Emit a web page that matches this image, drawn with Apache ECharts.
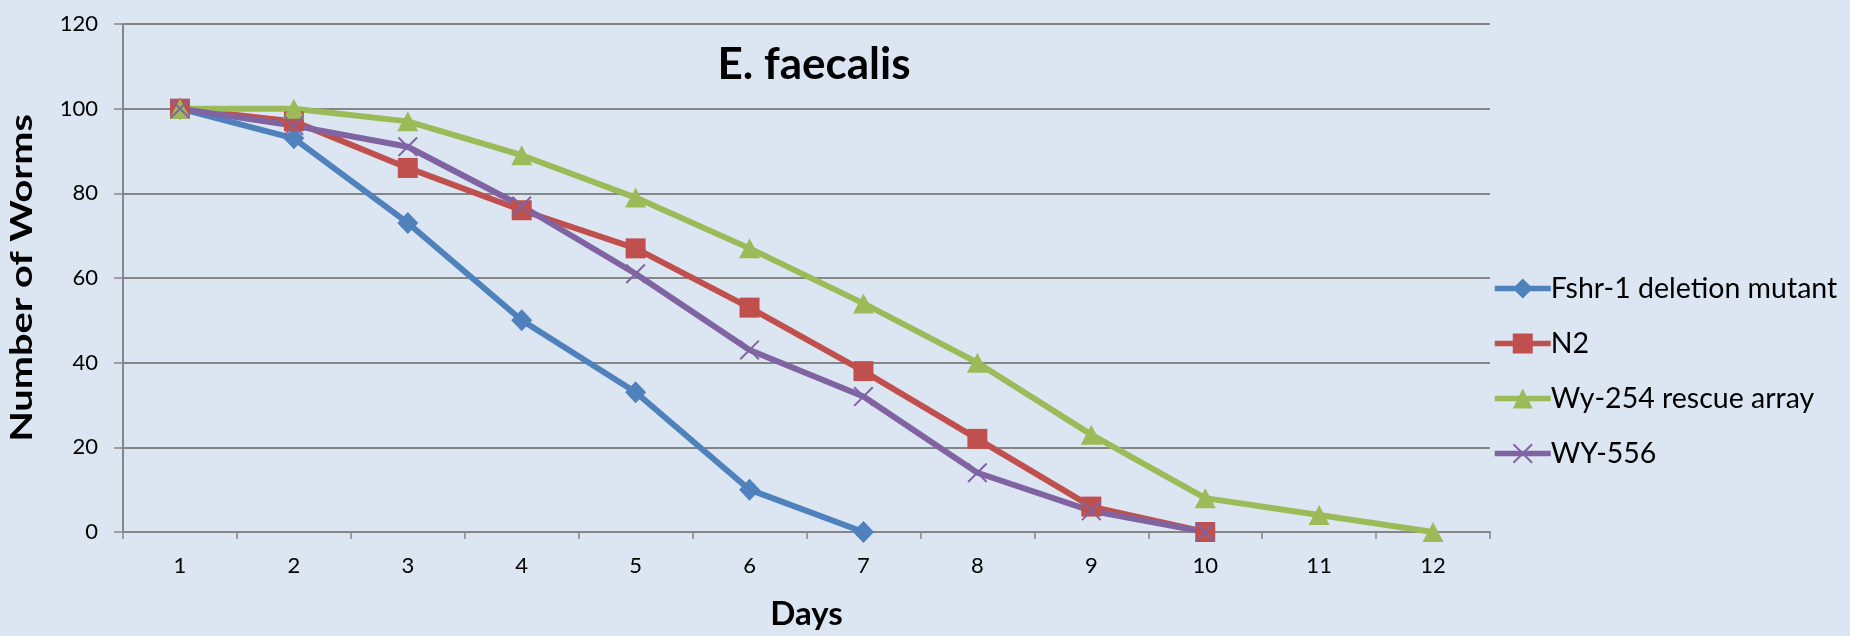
<!DOCTYPE html>
<html>
<head>
<meta charset="utf-8">
<script src="https://cdn.jsdelivr.net/npm/echarts@6/dist/echarts.min.js"></script>
<style>
  html, body { margin: 0; padding: 0; background: #DCE6F2; }
  #chart { width: 1850px; height: 636px; }
</style>
</head>
<body>
<div id="chart"></div>
<script>
// Survival of worms on E. faecalis, counted each day
const days = ['1', '2', '3', '4', '5', '6', '7', '8', '9', '10', '11', '12'];
const yTicks = [0, 20, 40, 60, 80, 100, 120];

const fshrDeletion = [100, 93, 73, 50, 33, 10, 0];
const n2 = [100, 97, 86, 76, 67, 53, 38, 22, 6, 0];
const wy254Rescue = [100, 100, 97, 89, 79, 67, 54, 40, 23, 8, 4, 0];
const wy556 = [100, 96, 91, 77, 61, 43, 32, 14, 5, 0];

const FONT = 'Lato, "Open Sans", sans-serif';
// thin "x" marker drawn as two crossing bars
const crossPath = 'path://M0,0.7 L0.7,0 L10,9.3 L9.3,10 Z M9.3,0 L10,0.7 L0.7,10 L0,9.3 Z';

function lineSeries(name, data, color, symbol, size) {
  return {
    name: name,
    type: 'line',
    data: data,
    symbol: symbol,
    symbolSize: size,
    symbolKeepAspect: true,
    showAllSymbol: true,
    lineStyle: { color: color, width: 6 },
    itemStyle: { color: color, borderWidth: 0 },
    emphasis: { disabled: true },
    animation: false
  };
}

const chart = echarts.init(document.getElementById('chart'), null, { renderer: 'canvas' });
chart.setOption({
  backgroundColor: '#DCE6F2',
  animation: false,
  title: {
    text: 'E. faecalis',
    left: 809,
    top: 38,
    textAlign: 'center',
    textStyle: { fontFamily: FONT, fontWeight: 'bold', fontSize: 44, color: '#000' }
  },
  graphic: [{
    type: 'text',
    x: 22,
    y: 278,
    rotation: Math.PI / 2,
    scaleX: 1.28,
    style: {
      text: 'Number of Worms',
      fontFamily: FONT,
      fontWeight: 'bold',
      fontSize: 31,
      fill: '#000',
      textAlign: 'center',
      textVerticalAlign: 'middle'
    }
  }],
  grid: { left: 123, right: 360, top: 24, bottom: 102, containLabel: false },
  legend: {
    orient: 'vertical',
    left: 1487,
    top: 269,
    itemWidth: 56,
    itemHeight: 25,
    itemGap: 26,
    lineStyle: { width: 5.5 },
    textStyle: { fontFamily: FONT, fontSize: 28.5, lineHeight: 25, color: '#000', padding: [0, 0, 0, -5] },
    data: ['Fshr-1 deletion mutant', 'N2', 'Wy-254 rescue array', 'WY-556']
  },
  xAxis: {
    type: 'category',
    data: days,
    boundaryGap: true,
    name: 'Days',
    nameLocation: 'middle',
    nameGap: 66,
    nameTextStyle: { fontFamily: FONT, fontWeight: 'bold', fontSize: 33, color: '#000' },
    axisLine: { lineStyle: { color: '#868686', width: 2 } },
    axisTick: { show: true, length: 7, lineStyle: { color: '#868686', width: 1.5 } },
    axisLabel: { fontFamily: FONT, fontSize: 22, color: '#000', margin: 23 },
    splitLine: { show: false }
  },
  yAxis: {
    type: 'value',
    min: yTicks[0],
    max: yTicks[yTicks.length - 1],
    interval: 20,
    axisLine: { show: true, lineStyle: { color: '#868686', width: 2 } },
    axisTick: { show: true, length: 9, lineStyle: { color: '#868686', width: 1.5 } },
    axisLabel: { fontFamily: FONT, fontSize: 22, color: '#000', margin: 25 },
    splitLine: { show: true, lineStyle: { color: '#868686', width: 2 } }
  },
  series: [
    lineSeries('Fshr-1 deletion mutant', fshrDeletion, '#4F81BD', 'diamond', [21, 22]),
    lineSeries('N2', n2, '#C0504D', 'rect', 20),
    lineSeries('Wy-254 rescue array', wy254Rescue, '#9BBB59', 'triangle', [21, 20]),
    lineSeries('WY-556', wy556, '#8064A2', crossPath, 20)
  ]
});
</script>
</body>
</html>
